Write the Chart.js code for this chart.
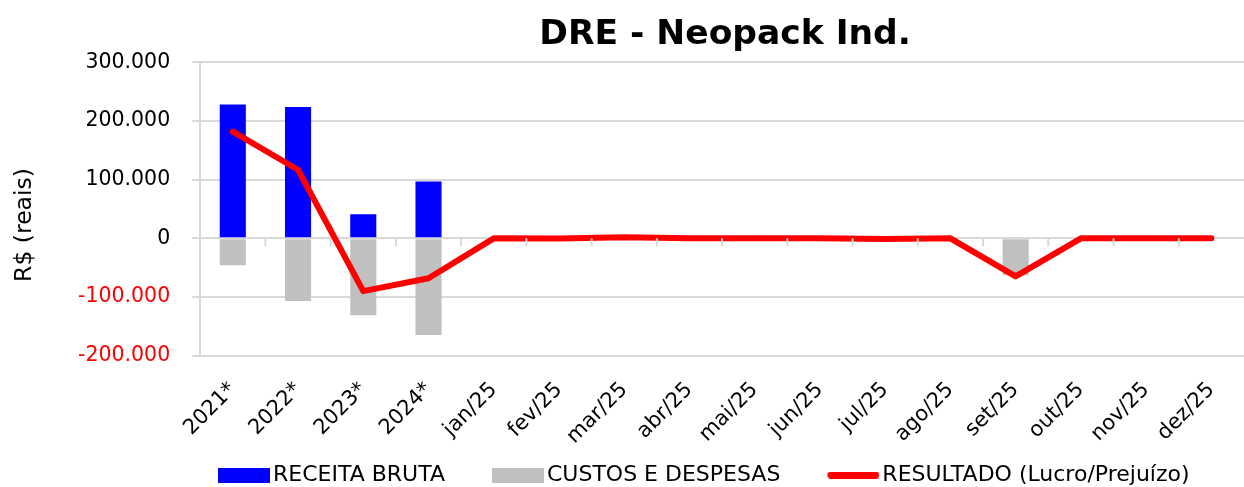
<!DOCTYPE html>
<html>
<head>
<meta charset="utf-8">
<script src="https://cdn.jsdelivr.net/npm/chart.js@4"></script>
<style>
html,body{margin:0;padding:0;background:#fff;}
#wrap{width:1244px;height:487px;}
</style>
</head>
<body>
<div id="wrap"><canvas id="c" width="1244" height="487"></canvas></div>
<script>
const categories = ['2021*','2022*','2023*','2024*','jan/25','fev/25','mar/25','abr/25','mai/25','jun/25','jul/25','ago/25','set/25','out/25','nov/25','dez/25'];
const receitaBruta = [228000,224000,41000,97000,0,0,0,0,0,0,0,0,0,0,0,0];
const custosDespesas = [-46000,-107000,-131000,-165000,0,0,0,0,0,0,0,0,-63000,0,0,0];
const resultado = [182000,117000,-90000,-68000,0,-500,2000,0,0,0,-1000,0,-65000,0,0,0];
const yTickValues = [-200000,-100000,0,100000,200000,300000];
const seriesNames = ['RECEITA BRUTA','CUSTOS E DESPESAS','RESULTADO (Lucro/Prejuízo)'];
const titleText = 'DRE - Neopack Ind.';
const yAxisTitle = 'R$ (reais)';

const FONT = "'DejaVu Sans', sans-serif";
const GAP = 47;
const LEG_PAD = 0;

function makeIcon(w, h, color, round) {
  const cv = document.createElement('canvas');
  cv.width = GAP + 60; cv.height = h;
  const g = cv.getContext('2d');
  const x0 = GAP + 8;
  g.fillStyle = color;
  if (round) {
    g.lineCap = 'round';
    g.strokeStyle = color;
    g.lineWidth = h;
    g.beginPath(); g.moveTo(x0 + h/2, h/2); g.lineTo(x0 + w - h/2, h/2); g.stroke();
  } else {
    g.fillRect(x0, 0, w, h);
  }
  return cv;
}
const icons = [makeIcon(52,15,'#0000FF'), makeIcon(52,15,'#C0C0C0'), makeIcon(52,7,'#FF0000',true)];

function fmt(v){
  const s = Math.abs(v).toString().replace(/\B(?=(\d{3})+(?!\d))/g, '.');
  return (v < 0 ? '-' : '') + s;
}

const zeroTicks = {
  id:'zeroTicks',
  afterDatasetsDraw(chart){
    const x = chart.scales.x, y = chart.scales.y, ctx = chart.ctx;
    const y0 = y.getPixelForValue(0);
    ctx.save();
    ctx.strokeStyle = '#D9D9D9'; ctx.lineWidth = 2;
    for (let i = 1; i < categories.length; i++) {
      const px = (x.getPixelForValue(i-1) + x.getPixelForValue(i)) / 2;
      ctx.beginPath(); ctx.moveTo(px, y0); ctx.lineTo(px, y0 + 8); ctx.stroke();
    }
    ctx.restore();
  }
};
const yTitle = {
  id:'yTitle',
  afterDraw(chart){
    const ctx = chart.ctx, a = chart.chartArea;
    ctx.save();
    ctx.translate(25, (a.top + a.bottom) / 2 + 16);
    ctx.rotate(-Math.PI / 2);
    ctx.fillStyle = '#000';
    ctx.font = "23.5px " + FONT;
    ctx.textAlign = 'center'; ctx.textBaseline = 'middle';
    ctx.fillText(yAxisTitle, 0, 0);
    ctx.restore();
  }
};
const boxShift = {
  id:'boxShift',
  afterLayout(chart){
    const lg = chart.legend;
    if (lg) {
      const w = lg.right - lg.left;
      lg.left = 218 - GAP - LEG_PAD; lg.right = lg.left + w;
      lg.top += 9; lg.bottom += 9;
    }
    const t = chart.titleBlock;
    if (t) { t.left += 3; t.right += 3; }
  }
};

new Chart(document.getElementById('c'), {
  data: {
    labels: categories,
    datasets: [
      { type:'line', label: seriesNames[2], data: resultado, borderColor:'#FF0000', backgroundColor:'#FF0000',
        borderWidth:6, pointRadius:0, tension:0, stack:'line', order:0, borderCapStyle:'round', borderJoinStyle:'round' },
      { type:'bar', label: seriesNames[0], data: receitaBruta, backgroundColor:'#0000FF', stack:'s', order:1,
        categoryPercentage:0.8, barPercentage:0.5 },
      { type:'bar', label: seriesNames[1], data: custosDespesas, backgroundColor:'#C0C0C0', stack:'s', order:1,
        categoryPercentage:0.8, barPercentage:0.5 }
    ]
  },
  plugins:[zeroTicks, boxShift, yTitle],
  options: {
    responsive:false,
    animation:false,
    layout:{ padding:{ left:56, right:0, top:0, bottom:0 } },
    scales: {
      x: {
        stacked:true,
        grid:{ display:false, drawTicks:false },
        border:{ display:false },
        ticks:{ maxRotation:45, minRotation:45, color:'#000', font:{ family:FONT, size:21 }, padding:22, autoSkip:false },
        afterFit(scale){ scale.paddingRight = 0; scale.height -= 16; }
      },
      y: {
        stacked:true,
        min:-200000, max:300000,
        afterBuildTicks(axis){ axis.ticks = yTickValues.map(v=>({value:v})); },
        grid:{ color:'#D9D9D9', lineWidth:2, tickLength:8 },
        border:{ display:true, color:'#D9D9D9', width:2 },
        ticks:{ color:(ctx)=> ctx.tick && ctx.tick.value < 0 ? '#FF0000' : '#000', font:{ family:FONT, size:20.5 }, padding:22, callback:(v)=>fmt(v) }
      }
    },
    plugins: {
      title: { display:true, text:titleText, fullSize:false, color:'#000', font:{ family:FONT, size:34.5, weight:'bold' }, padding:{ top:14, bottom:7 } },
      legend: {
        position:'bottom', align:'start',
        labels:{
          usePointStyle:true, pointStyleWidth:44 + GAP, boxHeight:22, padding:LEG_PAD, color:'#000',
          font:{ family:FONT, size:22 },
          generateLabels(chart){
            const items = Chart.defaults.plugins.legend.labels.generateLabels(chart);
            items.sort((a,b)=> seriesNames.indexOf(a.text) - seriesNames.indexOf(b.text));
            items.forEach(it => { it.pointStyle = icons[seriesNames.indexOf(it.text)]; });
            return items;
          }
        }
      },
      tooltip:{ enabled:false }
    }
  }
});
</script>
</body>
</html>
